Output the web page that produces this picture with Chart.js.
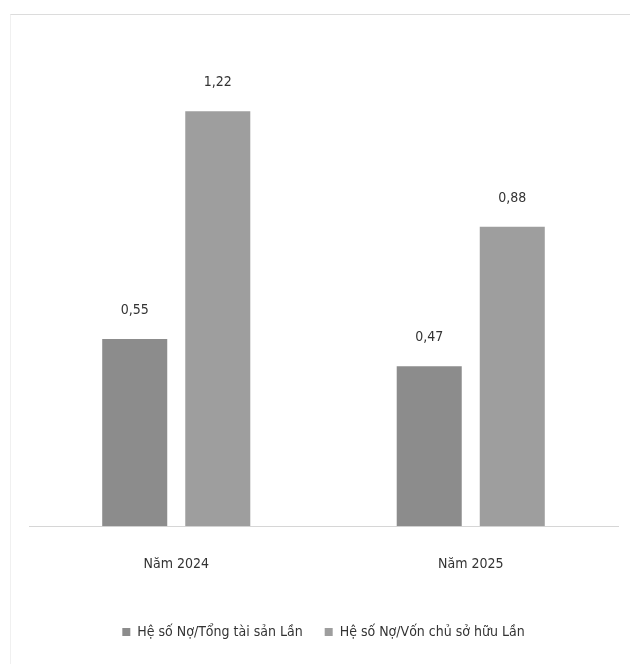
<!DOCTYPE html>
<html>
<head>
<meta charset="utf-8">
<script src="https://cdn.jsdelivr.net/npm/chart.js@4"></script>
<style>
html,body{margin:0;padding:0;background:#fff;}
#wrap{position:relative;width:630px;height:664px;}
#frame{position:absolute;left:10px;top:14px;width:640px;height:680px;border-top:1px solid #dcdcdc;border-left:1px solid #f0f0f0;}
canvas{position:absolute;left:0;top:0;}
</style>
</head>
<body>
<div id="wrap"><div id="frame"></div><canvas id="c" width="630" height="664"></canvas></div>
<script>
const categories = ["Năm 2024", "Năm 2025"];
const seriesNames = ["Hệ số Nợ/Tổng tài sản Lần", "Hệ số Nợ/Vốn chủ sở hữu Lần"];
const debtToAssets = [0.55, 0.47];
const debtToEquity = [1.22, 0.88];
const FONT = "'Liberation Sans Narrow','DejaVu Sans Condensed',sans-serif";

const valueLabels = {
  id: 'valueLabels',
  afterDatasetsDraw(chart) {
    const ctx = chart.ctx;
    ctx.save();
    ctx.font = "14px " + FONT;
    ctx.fillStyle = "#333";
    ctx.textAlign = "center";
    ctx.textBaseline = "bottom";
    chart.data.datasets.forEach((ds, i) => {
      chart.getDatasetMeta(i).data.forEach((bar, j) => {
        ctx.fillText(ds.data[j].toFixed(2).replace('.', ','), bar.x, bar.y - 22);
      });
    });
    ctx.restore();
  }
};

new Chart(document.getElementById('c'), {
  type: 'bar',
  data: {
    labels: categories,
    datasets: [
      { label: seriesNames[0], data: debtToAssets, backgroundColor: '#8c8c8c', categoryPercentage: 0.564, barPercentage: 0.783 },
      { label: seriesNames[1], data: debtToEquity, backgroundColor: '#9e9e9e', categoryPercentage: 0.564, barPercentage: 0.783 }
    ]
  },
  options: {
    responsive: false,
    animation: false,
    layout: { padding: { left: 29, right: 12, top: 50, bottom: 15 } },
    scales: {
      x: {
        grid: { display: false, drawTicks: false },
        border: { color: '#d6d6d6', width: 1 },
        ticks: { color: '#333', font: { family: FONT, size: 14 }, padding: 30 }
      },
      y: { display: false, min: 0, max: 1.4 }
    },
    plugins: {
      legend: {
        position: 'bottom',
        labels: { color: '#333', font: { family: FONT, size: 14 }, boxWidth: 8, boxHeight: 8, padding: 22 }
      },
      tooltip: { enabled: false }
    }
  },
  plugins: [valueLabels]
});
</script>
</body>
</html>
